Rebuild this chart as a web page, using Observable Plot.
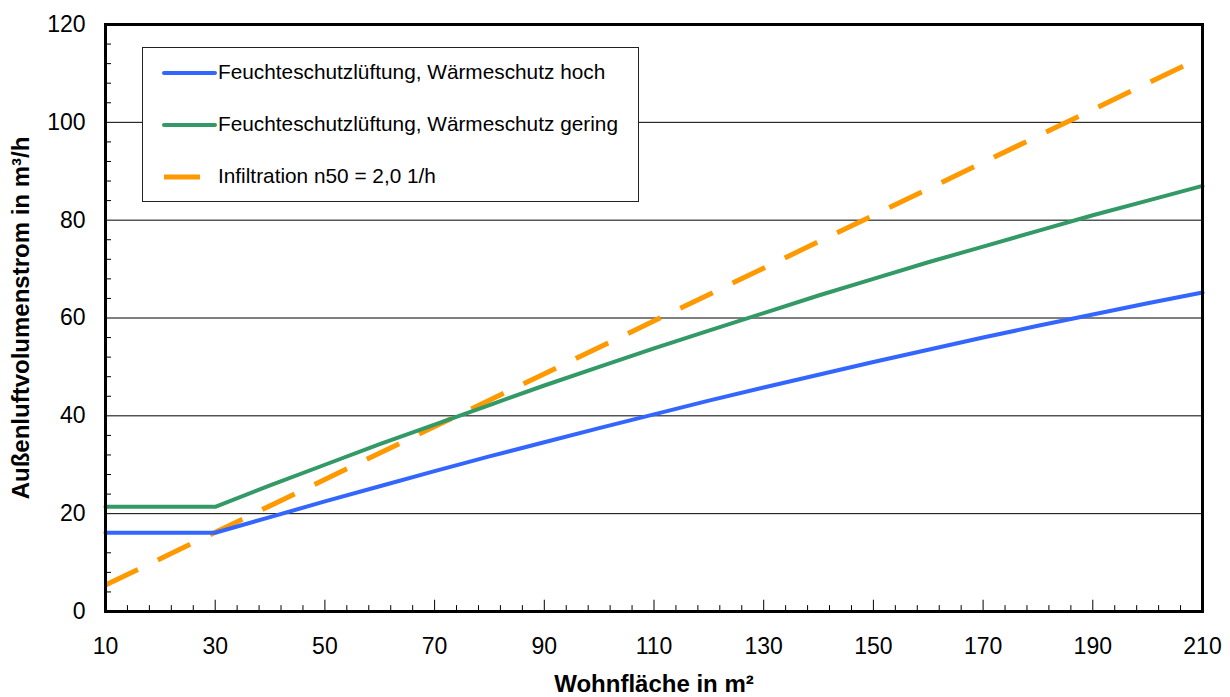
<!DOCTYPE html>
<html>
<head>
<meta charset="utf-8">
<script src="https://cdn.jsdelivr.net/npm/d3@7"></script>
<script src="https://cdn.jsdelivr.net/npm/@observablehq/plot@0.6"></script>
<style>
  html, body { margin: 0; padding: 0; background: #fff; }
  #wrap { position: relative; width: 1230px; height: 697px; font-family: "Liberation Sans", Arial, sans-serif; }
  #legend { position: absolute; left: 142px; top: 47px; width: 497px; height: 155px; background: #fff; border: 1px solid #222; box-sizing: border-box; }
  .item { position: absolute; left: 0; height: 30px; width: 100%; }
  .item svg { position: absolute; left: 0; top: 0; }
  .item span { position: absolute; left: 75px; top: 2px; font-size: 20.8px; color: #000; white-space: nowrap; }
</style>
</head>
<body>
<div id="wrap"></div>
<script>
// Data
const area = [10, 20, 30, 40, 50, 60, 70, 80, 90, 100, 110, 120, 130, 140, 150, 160, 170, 180, 190, 200, 210];
const hoch = [16.1, 16.1, 16.1, 19.3, 22.5, 25.6, 28.7, 31.7, 34.6, 37.5, 40.3, 43.1, 45.8, 48.4, 51.0, 53.5, 56.0, 58.4, 60.7, 63.0, 65.2];
const gering = [21.4, 21.4, 21.4, 25.8, 30.0, 34.2, 38.2, 42.2, 46.2, 50.0, 53.8, 57.4, 61.0, 64.6, 68.0, 71.4, 74.6, 77.8, 81.0, 84.0, 87.0];
const infArea = [10, 210];
const infiltration = [5.4, 113.4];

const seriesNames = [
  "Feuchteschutzlüftung, Wärmeschutz hoch",
  "Feuchteschutzlüftung, Wärmeschutz gering",
  "Infiltration n50 = 2,0 1/h"
];
const seriesColors = ["#3366FF", "#339966", "#FF9900"];

const xTicks = [10, 30, 50, 70, 90, 110, 130, 150, 170, 190, 210];
const yTicks = [0, 20, 40, 60, 80, 100, 120];
const xMinor = d3.range(14, 210, 4).filter(v => !xTicks.includes(v));
const yMinor = d3.range(4, 120, 4).filter(v => !yTicks.includes(v));
const yGrid = [20, 40, 60, 80, 100];

const xTitle = "Wohnfläche in m²";
const yTitle = "Außenluftvolumenstrom in m³/h";

const dHoch = area.map((a, i) => ({x: a, y: hoch[i]}));
const dGering = area.map((a, i) => ({x: a, y: gering[i]}));
const dInf = infArea.map((a, i) => ({x: a, y: infiltration[i]}));

const chart = Plot.plot({
  width: 1230,
  height: 697,
  marginLeft: 105,
  marginRight: 28,
  marginTop: 24,
  marginBottom: 86,
  x: {domain: [10, 210]},
  y: {domain: [0, 120]},
  style: {fontFamily: "'Liberation Sans', Arial, sans-serif", fontSize: "23px", background: "#fff", color: "#000", overflow: "visible"},
  marks: [
    Plot.ruleY(yGrid, {stroke: "#000", strokeWidth: 1}),
    Plot.ruleX(xMinor, {x: d => d, y1: 0, y2: 1.2, stroke: "#000", strokeWidth: 1}),
    Plot.ruleX(xTicks, {x: d => d, y1: 0, y2: 2.3, stroke: "#000", strokeWidth: 1}),
    Plot.ruleY(yMinor, {y: d => d, x1: 10, x2: 11.1, stroke: "#000", strokeWidth: 1}),
    Plot.line(dInf, {x: "x", y: "y", stroke: seriesColors[2], strokeWidth: 5, strokeDasharray: "36,22", strokeLinecap: "butt"}),
    Plot.line(dGering, {x: "x", y: "y", stroke: seriesColors[1], strokeWidth: 4}),
    Plot.line(dHoch, {x: "x", y: "y", stroke: seriesColors[0], strokeWidth: 4}),
    Plot.frame({stroke: "#000", strokeWidth: 3}),
    Plot.axisX({ticks: xTicks, tickSize: 0, tickPadding: 26, label: null, fontSize: 23}),
    Plot.axisY({ticks: yTicks, tickSize: 0, tickPadding: 20, label: null, fontSize: 23}),
    Plot.text([xTitle], {frameAnchor: "bottom", lineAnchor: "bottom", dy: 80, fontWeight: "bold", fontSize: 24, fill: "#000"}),
    Plot.text([yTitle], {frameAnchor: "left", textAnchor: "middle", lineAnchor: "middle", dx: -84, rotate: -90, fontWeight: "bold", fontSize: 24, fill: "#000"})
  ]
});

const wrap = document.getElementById("wrap");
wrap.appendChild(chart);

// Legend
const legend = document.createElement("div");
legend.id = "legend";
const tops = [10, 62, 114];
seriesNames.forEach((name, i) => {
  const item = document.createElement("div");
  item.className = "item";
  item.style.top = tops[i] + "px";
  const dashed = i === 2;
  item.innerHTML = `<svg width="80" height="30">` +
    (dashed
      ? `<line x1="21" x2="57" y1="15" y2="15" stroke="${seriesColors[i]}" stroke-width="5" stroke-linecap="butt"/>`
      : `<line x1="21" x2="72" y1="15" y2="15" stroke="${seriesColors[i]}" stroke-width="4" stroke-linecap="round"/>`) +
    `</svg><span>${name}</span>`;
  legend.appendChild(item);
});
wrap.appendChild(legend);
</script>
</body>
</html>
